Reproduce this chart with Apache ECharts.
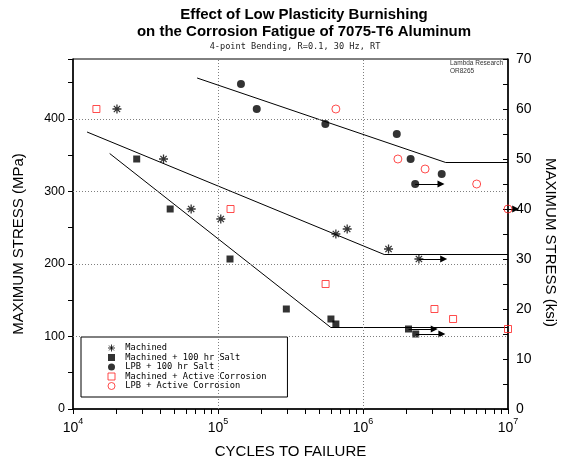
<!DOCTYPE html>
<html>
<head>
<meta charset="utf-8">
<title>Corrosion fatigue of 7075-T6</title>
<script src="https://cdn.jsdelivr.net/npm/echarts@6/dist/echarts.min.js"></script>
<style>
  html, body { margin: 0; padding: 0; background: #fff; }
  #chart { width: 569px; height: 464px; }
</style>
</head>
<body>
<div id="chart"></div>
<script>
const MPA_PER_KSI = 6.894757;

// cycles to failure / maximum stress (ksi)
const machinedCycles = [20100, 42100, 65300, 104500, 650000, 778000, 1500000, 2430000];
const machinedKsi = [60, 50, 40, 38, 35, 36, 32, 30];

const saltCycles = [27500, 46800, 121000, 296000, 601000, 650000, 2060000, 2310000];
const saltKsi = [50, 40, 30, 20, 18, 17, 16, 15];

const lpbSaltCycles = [144000, 185000, 550000, 1710000, 2130000, 3490000, 2290000];
const lpbSaltKsi = [65, 60, 57, 55, 50, 47, 45];

const activeCycles = [14500, 122000, 552000, 3110000, 4180000, 10000000];
const activeKsi = [60, 40, 25, 20, 18, 16];

const lpbActiveCycles = [650000, 1740000, 2680000, 6080000, 10000000];
const lpbActiveKsi = [60, 50, 48, 45, 40];

// run-outs: start cycles, arrow end cycles, stress (ksi)
const runoutFrom = [2430000, 2060000, 2310000, 2290000, 10000000];
const runoutTo = [3600000, 3100000, 3500000, 3450000, 11300000];
const runoutKsi = [30, 16, 15, 45, 40];

// fitted S-N curves (knee then endurance limit)
const machinedFitCycles = [12500, 1400000, 10000000];
const machinedFitKsi = [55.4, 30.9, 30.9];
const saltFitCycles = [17900, 600000, 10000000];
const saltFitKsi = [51.1, 16.3, 16.3];
const lpbSaltFitCycles = [71800, 3720000, 10000000];
const lpbSaltFitKsi = [66.2, 49.3, 49.3];

// axes
const xTickCycles = [
  10000, 20000, 30000, 40000, 50000, 60000, 70000, 80000, 90000,
  100000, 200000, 300000, 400000, 500000, 600000, 700000, 800000, 900000,
  1000000, 2000000, 3000000, 4000000, 5000000, 6000000, 7000000, 8000000, 9000000,
  10000000,
];
const xLabelCycles = [10000, 100000, 1000000, 10000000];
const gridCycles = [100000, 1000000];
const gridMpa = [100, 200, 300, 400];

const names = [
  "Machined",
  "Machined + 100 hr Salt",
  "LPB + 100 hr Salt",
  "Machined + Active Corrosion",
  "LPB + Active Corrosion",
];

const RED = "#ff1f1f";
const ASTERISK = "path://M5,0L5,10M0,5L10,5M1.5,1.5L8.5,8.5M8.5,1.5L1.5,8.5";
const SANS = "Liberation Sans";
const MONO = "DejaVu Sans Mono";

function pairs(xs, ys) {
  return xs.map((x, i) => [x, ys[i]]);
}

function scatter(name, xs, ys, symbol, size, itemStyle) {
  return {
    name: name,
    type: "scatter",
    xAxisIndex: 0,
    yAxisIndex: 1,
    symbol: symbol,
    symbolSize: size,
    itemStyle: itemStyle,
    clip: true,
    z: 4,
    data: pairs(xs, ys),
  };
}

function fitLine(xs, ys) {
  return {
    type: "line",
    xAxisIndex: 0,
    yAxisIndex: 1,
    symbol: "none",
    silent: true,
    lineStyle: { color: "#000", width: 1 },
    z: 2,
    data: pairs(xs, ys),
  };
}

const chart = echarts.init(document.getElementById("chart"), null, { renderer: "canvas" });

const option = {
  animation: false,
  backgroundColor: "#fff",
  grid: {
    left: 73,
    right: 61,
    top: 59,
    bottom: 52,
    show: true,
    borderColor: "#000",
    borderWidth: 1,
  },
  graphic: [
    {
      type: "text",
      x: 304,
      y: 15,
      style: {
        text: "Effect of Low Plasticity Burnishing",
        align: "center",
        verticalAlign: "middle",
        fontFamily: SANS,
        fontWeight: "bold",
        fontSize: 15,
        fill: "#000",
      },
    },
    {
      type: "text",
      x: 304,
      y: 32,
      style: {
        text: "on the Corrosion Fatigue of 7075-T6 Aluminum",
        align: "center",
        verticalAlign: "middle",
        fontFamily: SANS,
        fontWeight: "bold",
        fontSize: 15,
        fill: "#000",
      },
    },
    {
      type: "text",
      x: 295,
      y: 47,
      style: {
        text: "4-point Bending, R=0.1, 30 Hz, RT",
        align: "center",
        verticalAlign: "middle",
        fontFamily: MONO,
        fontSize: 8.6,
        fill: "#222",
      },
    },
    {
      type: "text",
      x: 450,
      y: 67,
      style: {
        text: "Lambda Research\nOR8265",
        align: "left",
        verticalAlign: "middle",
        fontFamily: SANS,
        fontSize: 6.5,
        lineHeight: 8,
        fill: "#333",
      },
    },
  ],
  legend: {
    orient: "vertical",
    left: 81,
    top: 337,
    data: names,
    selectedMode: false,
    itemWidth: 7,
    itemHeight: 7,
    itemGap: 0.5,
    padding: [6.5, 21, 6.5, 26.5],
    borderColor: "#000",
    borderWidth: 1,
    borderRadius: 0,
    backgroundColor: "#fff",
    itemStyle: { borderWidth: 1 },
    formatter: (name) => " " + name,
    textStyle: { fontFamily: MONO, fontSize: 8.7, color: "#000" },
  },
  xAxis: {
    type: "log",
    logBase: 10,
    min: 10000,
    max: 10000000,
    position: "bottom",
    name: "CYCLES TO FAILURE",
    nameLocation: "middle",
    nameGap: 35,
    nameTextStyle: { fontFamily: SANS, fontSize: 15, color: "#000" },
    axisLine: { lineStyle: { color: "#000", width: 1.5 } },
    axisTick: {
      show: true,
      length: 5,
      customValues: xTickCycles,
      lineStyle: { color: "#000", width: 1 },
    },
    axisLabel: {
      customValues: xLabelCycles,
      margin: 8,
      formatter: (v) => "{b|10}{s|" + Math.round(Math.log10(v)) + "}",
      rich: {
        b: { fontFamily: SANS, fontSize: 14, lineHeight: 18, verticalAlign: "bottom", color: "#000" },
        s: { fontFamily: SANS, fontSize: 9, lineHeight: 10, verticalAlign: "top", color: "#000" },
      },
    },
    splitLine: { show: false },
  },
  yAxis: [
    {
      type: "value",
      position: "left",
      min: 0,
      max: 70 * MPA_PER_KSI,
      interval: 50,
      name: "MAXIMUM STRESS (MPa)",
      nameLocation: "middle",
      nameGap: 47,
      nameTextStyle: { fontFamily: SANS, fontSize: 15, color: "#000", padding: [0, 20, 0, 0] },
      axisLine: { show: true, lineStyle: { color: "#000", width: 1.5 } },
      axisTick: { show: true, length: 5, lineStyle: { color: "#000", width: 1 } },
      axisLabel: {
        margin: 8,
        fontFamily: SANS,
        fontSize: 12.5,
        color: "#000",
        formatter: (v) => (v % 100 === 0 ? String(v) : ""),
      },
      splitLine: { show: false },
    },
    {
      type: "value",
      position: "right",
      min: 0,
      max: 70,
      interval: 10,
      name: "MAXIMUM STRESS (ksi)",
      nameLocation: "middle",
      nameRotate: -90,
      nameGap: 35,
      nameTextStyle: { fontFamily: SANS, fontSize: 15, color: "#000", padding: [0, 0, 0, 17] },
      axisLine: { show: true, lineStyle: { color: "#000", width: 1.5 } },
      axisTick: { show: true, inside: true, length: 5, lineStyle: { color: "#000", width: 1 } },
      minorTick: { show: true, splitNumber: 2, length: 5, lineStyle: { color: "#000", width: 1 } },
      axisLabel: { margin: 8, fontFamily: SANS, fontSize: 14, color: "#000" },
      splitLine: { show: false },
    },
  ],
  series: [
    // dotted reference grid
    {
      type: "line",
      xAxisIndex: 0,
      yAxisIndex: 0,
      data: [],
      silent: true,
      markLine: {
        silent: true,
        symbol: "none",
        animation: false,
        label: { show: false },
        lineStyle: { color: "#7f7f7f", type: [1, 2], width: 1 },
        data: gridCycles
          .map((v) => ({ xAxis: v }))
          .concat(gridMpa.map((v) => ({ yAxis: v }))),
      },
    },
    fitLine(machinedFitCycles, machinedFitKsi),
    fitLine(saltFitCycles, saltFitKsi),
    fitLine(lpbSaltFitCycles, lpbSaltFitKsi),
    {
      type: "lines",
      coordinateSystem: "cartesian2d",
      xAxisIndex: 0,
      yAxisIndex: 1,
      clip: false,
      silent: true,
      symbol: ["none", "triangle"],
      symbolSize: 7,
      lineStyle: { color: "#000", width: 1, opacity: 1 },
      z: 3,
      data: runoutFrom.map((c, i) => ({
        coords: [
          [c, runoutKsi[i]],
          [runoutTo[i], runoutKsi[i]],
        ],
      })),
    },
    scatter(names[0], machinedCycles, machinedKsi, ASTERISK, 9, {
      color: "rgba(0,0,0,0)",
      borderColor: "#000",
      borderWidth: 1.3,
    }),
    scatter(names[1], saltCycles, saltKsi, "rect", 7, { color: "#000" }),
    scatter(names[2], lpbSaltCycles, lpbSaltKsi, "circle", 8, { color: "#000" }),
    scatter(names[3], activeCycles, activeKsi, "rect", 7, {
      color: "rgba(255,255,255,0)",
      borderColor: RED,
      borderWidth: 1,
    }),
    scatter(names[4], lpbActiveCycles, lpbActiveKsi, "circle", 8, {
      color: "rgba(255,255,255,0)",
      borderColor: RED,
      borderWidth: 1,
    }),
  ],
};

chart.setOption(option);
</script>
</body>
</html>
